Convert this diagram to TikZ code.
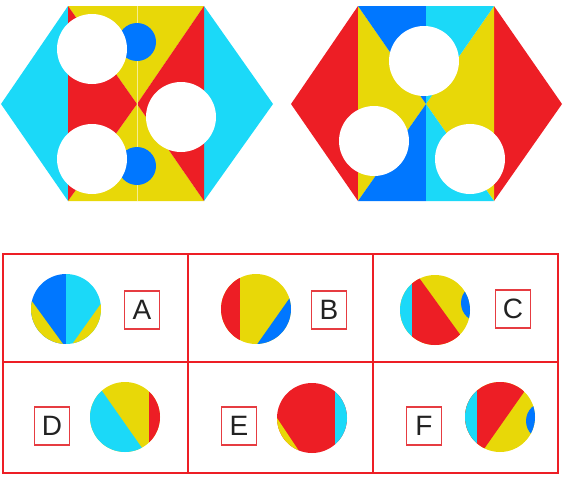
\documentclass[tikz,border=0pt]{standalone}
\usepackage{fontspec}
\setmainfont{Liberation Sans}
\definecolor{re}{RGB}{237,30,37}
\definecolor{ye}{RGB}{232,216,8}
\definecolor{cy}{RGB}{27,217,248}
\definecolor{bl}{RGB}{0,119,255}
\definecolor{lbl}{RGB}{230,60,65}
\definecolor{txt}{RGB}{34,34,34}
\begin{document}
\begin{tikzpicture}[x=1pt,y=-1pt,
  hole/.style={fill=white},
  grid/.style={draw=re,line width=2pt},
  lab/.style={draw=lbl,line width=1.2pt,minimum width=35pt,minimum height=38pt,inner sep=0pt,
    text=txt,font=\fontsize{28}{30}\selectfont}]
\useasboundingbox (0,0) rectangle (577,482);
% ---------- hexagon 1 ----------
\fill[cy] (1,104)--(68,6)--(68,201)--cycle;
\fill[cy] (204,6)--(273,104)--(204,201)--cycle;
\fill[ye] (68,6)--(204,6)--(137,104)--cycle;
\fill[ye] (68,201)--(204,201)--(137,104)--cycle;
\fill[re] (68,6)--(137,104)--(68,201)--cycle;
\fill[re] (204,6)--(137,104)--(204,201)--cycle;
\draw[ye!45!white,line width=0.8pt] (137,6)--(137,201);
\fill[bl] (137,42) circle (19pt);
\fill[bl] (137,166) circle (19pt);
\fill[hole] (92,49) circle (35pt);
\fill[hole] (92,159) circle (35pt);
\fill[hole] (181,117) circle (35pt);
% ---------- hexagon 2 ----------
\fill[re] (291,104)--(358,6)--(358,201)--cycle;
\fill[re] (494,6)--(562,104)--(494,201)--cycle;
\fill[ye] (358,6)--(426,104)--(358,201)--cycle;
\fill[ye] (494,6)--(426,104)--(494,201)--cycle;
\fill[bl] (358,6)--(426,6)--(426,104)--cycle;
\fill[bl] (358,201)--(426,201)--(426,104)--cycle;
\fill[cy] (426,6)--(494,6)--(426,104)--cycle;
\fill[cy] (426,201)--(494,201)--(426,104)--cycle;
\fill[hole] (424,61) circle (35pt);
\fill[hole] (374,141) circle (35pt);
\fill[hole] (470,159) circle (35pt);
% ---------- grid ----------
\draw[grid] (3,254) rectangle (558,473);
\draw[grid] (3,362)--(558,362);
\draw[grid] (188,254)--(188,473);
\draw[grid] (373,254)--(373,473);
% ---------- option A ----------
\begin{scope}
\clip (66,309) circle (35pt);
\fill[bl] (20,260) rectangle (66,360);
\fill[cy] (66,260) rectangle (120,360);
\fill[ye] (-1,256)--(95,388)--(-1,388)--cycle;
\fill[ye] (127,267)--(46,381)--(140,381)--cycle;
\end{scope}
% ---------- option B ----------
\begin{scope}
\clip (256,309) circle (35pt);
\fill[ye] (210,260) rectangle (300,360);
\fill[re] (210,260) rectangle (240,360);
\fill[bl] (320,255)--(227,387)--(330,387)--cycle;
\end{scope}
% ---------- option C ----------
\begin{scope}
\clip (435,310) circle (35pt);
\fill[ye] (390,260) rectangle (480,360);
\fill[re] (412,268)--(498,387)--(412,387)--cycle;
\fill[cy] (390,260) rectangle (412,360);
\fill[bl] (480,303) circle (19pt);
\end{scope}
% ---------- option D ----------
\begin{scope}
\clip (125,417) circle (35pt);
\fill[ye] (80,370) rectangle (170,470);
\fill[cy] (62,334)--(182,505)--(60,505)--cycle;
\fill[re] (149,370) rectangle (170,470);
\end{scope}
% ---------- option E ----------
\begin{scope}
\clip (312,418) circle (35pt);
\fill[re] (270,370) rectangle (360,470);
\fill[cy] (335,370) rectangle (360,470);
\fill[ye] (255,385)--(321,484)--(255,484)--cycle;
\end{scope}
% ---------- option F ----------
\begin{scope}
\clip (500,417) circle (35pt);
\fill[ye] (455,370) rectangle (545,470);
\fill[re] (564,335)--(444,506)--(440,335)--cycle;
\fill[cy] (455,370) rectangle (477,470);
\fill[bl] (545,421) circle (19pt);
\end{scope}
% ---------- labels ----------
\node[lab] (la) at (142,310) {A};
\node[lab] (lb) at (329,310) {B};
\node[lab] (lc) at (513,309) {C};
\node[lab] (ld) at (52,426) {D};
\node[lab] (le) at (239,426) {E};
\node[lab] (lf) at (424,426) {F};
\end{tikzpicture}
\end{document}
